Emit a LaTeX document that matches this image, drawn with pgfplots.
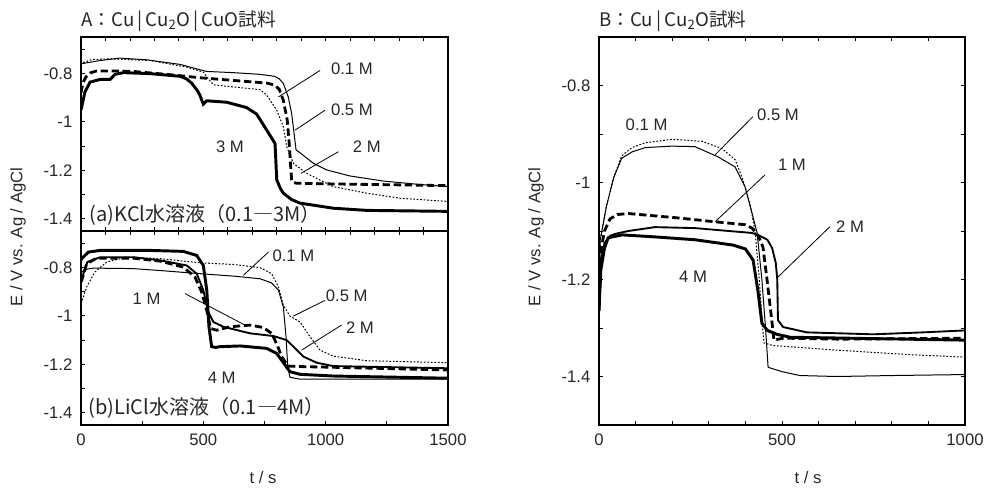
\documentclass[border=0pt]{standalone}
\usepackage{fontspec}
\setmainfont{Liberation Sans}
\newfontfamily\jp{Noto Sans CJK JP}
\usepackage{pgfplots}
\pgfplotsset{compat=1.18}

\definecolor{txt}{gray}{0.15}
\newcommand{\lbl}{\fontsize{12.5}{14}\selectfont}
\newcommand{\ttl}{\fontsize{14}{16}\selectfont}
\newcommand{\pnl}{\fontsize{15}{17}\selectfont}

\pgfplotsset{
  panel/.style={
    scale only axis, anchor=south west,
    axis line style={line width=0.9pt},
    tick style={line width=0.6pt, black},
    major tick length=3.2pt, tick align=inside,
    ticklabel style={font=\lbl, text=txt},
    xticklabel style={yshift=-3pt},
    yticklabel style={xshift=-3pt},
  },
}
\tikzset{
  sThin/.style={black, line width=0.75pt},
  sDot/.style={black, line width=0.75pt, dash pattern=on 1.3pt off 1.3pt},
  sDash/.style={black, line width=2.1pt, dash pattern=on 5.5pt off 2.8pt},
  sMed/.style={black, line width=1.4pt},
  sThick/.style={black, line width=2.2pt},
  sLead/.style={black, line width=0.6pt},
}

\begin{document}
\begin{tikzpicture}
\useasboundingbox (0,0) rectangle (738pt,365.25pt);

% ---------- A (a) KCl ----------
\begin{axis}[panel, at={(60.75pt,192pt)}, width=275.25pt, height=145.5pt,
  xmin=0, xmax=1500, ymin=-1.45, ymax=-0.65,
  xtick={0,100,...,1500}, xticklabels={},
  ytick={-1.4,-1.3,-1.2,-1.1,-1.0,-0.9,-0.8,-0.7},
  yticklabels={-1.4,,-1.2,,-1,,-0.8,}, ytick pos=left]
\addplot[sDash] coordinates {(0,-0.88) (3,-0.863) (10,-0.835) (20,-0.815) (40,-0.797) (64,-0.790) (150,-0.790) (214,-0.792) (350,-0.804) (486,-0.818) (623,-0.829) (759,-0.840) (790,-0.848) (810,-0.865) (827,-0.911) (843,-0.993) (851,-1.089) (857,-1.185) (861,-1.239) (870,-1.250) (881,-1.253) (1031,-1.256) (1250,-1.259) (1500,-1.263)};
\addplot[sThin] coordinates {(0,-0.765) (3,-0.760) (78,-0.747) (159,-0.737) (268,-0.744) (405,-0.763) (486,-0.785) (514,-0.792) (623,-0.797) (732,-0.804) (790,-0.812) (810,-0.822) (827,-0.842) (847,-0.897) (861,-0.966) (871,-1.048) (879,-1.116) (895,-1.127) (916,-1.144) (950,-1.171) (1004,-1.198) (1099,-1.223) (1236,-1.244) (1372,-1.257) (1500,-1.267)};
\addplot[sDot] coordinates {(0,-0.765) (3,-0.758) (44,-0.743) (119,-0.740) (282,-0.747) (432,-0.774) (500,-0.795) (520,-0.822) (541,-0.847) (623,-0.856) (732,-0.867) (759,-0.890) (800,-0.952) (827,-1.020) (841,-1.103) (868,-1.171) (922,-1.212) (1031,-1.267) (1168,-1.294) (1304,-1.315) (1500,-1.328)};
\addplot[sThick] coordinates {(0,-0.95) (3,-0.938) (16,-0.877) (37,-0.836) (78,-0.825) (119,-0.825) (139,-0.804) (173,-0.797) (282,-0.801) (405,-0.812) (430,-0.822) (452,-0.840) (475,-0.870) (486,-0.890) (500,-0.927) (514,-0.913) (595,-0.919) (677,-0.941) (718,-0.968) (759,-1.034) (793,-1.089) (800,-1.239) (815,-1.275) (827,-1.294) (860,-1.320) (895,-1.335) (1031,-1.356) (1168,-1.365) (1500,-1.369)};
\draw[sLead] (axis cs:977,-0.788) -- (axis cs:807,-0.897);
\draw[sLead] (axis cs:997,-0.952) -- (axis cs:875,-1.034);
\draw[sLead] (axis cs:1052,-1.123) -- (axis cs:899,-1.212);
\node[font=\lbl, text=txt] at (axis cs:1107,-0.78) {0.1 M};
\node[font=\lbl, text=txt] at (axis cs:1107,-0.952) {0.5 M};
\node[font=\lbl, text=txt] at (axis cs:1168,-1.102) {2 M};
\node[font=\lbl, text=txt] at (axis cs:609,-1.102) {3 M};
\node[font=\jp\pnl, text=txt, anchor=west, inner sep=0pt] at (axis cs:35,-1.385) {(a)KCl水溶液（0.1―3M）};
\end{axis}

% ---------- A (b) LiCl ----------
\begin{axis}[panel, at={(60.75pt,46.5pt)}, width=275.25pt, height=145.5pt,
  xmin=0, xmax=1500, ymin=-1.45, ymax=-0.65,
  xtick={0,250,...,1500}, xticklabels={0,,500,,1000,,1500}, xtick pos=left,
  ytick={-1.4,-1.3,-1.2,-1.1,-1.0,-0.9,-0.8,-0.7},
  yticklabels={-1.4,,-1.2,,-1,,-0.8,}, ytick pos=left]
\addplot[sThin] coordinates {(0,-0.83) (3,-0.819) (20,-0.808) (50,-0.803) (214,-0.805) (350,-0.815) (486,-0.826) (623,-0.836) (732,-0.847) (779,-0.864) (807,-0.894) (827,-0.963) (838,-1.086) (845,-1.209) (854,-1.253) (895,-1.261) (1031,-1.261) (1500,-1.261)};
\addplot[sDot] coordinates {(0,-0.95) (3,-0.942) (23,-0.881) (57,-0.819) (105,-0.778) (187,-0.758) (323,-0.764) (486,-0.781) (623,-0.788) (732,-0.801) (779,-0.826) (807,-0.881) (827,-0.956) (854,-1.001) (895,-1.025) (936,-1.086) (977,-1.141) (1031,-1.166) (1168,-1.185) (1500,-1.193)};
\addplot[sDash] coordinates {(0,-0.86) (3,-0.853) (23,-0.785) (64,-0.762) (214,-0.762) (323,-0.774) (418,-0.799) (466,-0.840) (493,-0.901) (514,-0.977) (530,-1.052) (554,-1.059) (609,-1.045) (691,-1.038) (745,-1.048) (779,-1.072) (802,-1.120) (820,-1.168) (847,-1.207) (895,-1.209) (1031,-1.212) (1500,-1.223)};
\addplot[sMed] coordinates {(0,-0.855) (3,-0.847) (26,-0.778) (78,-0.758) (214,-0.758) (323,-0.771) (432,-0.792) (473,-0.826) (500,-0.894) (520,-0.983) (541,-1.025) (582,-1.045) (691,-1.072) (786,-1.083) (841,-1.100) (875,-1.134) (909,-1.168) (963,-1.193) (1031,-1.207) (1500,-1.216)};
\addplot[sThick] coordinates {(0,-0.77) (3,-0.764) (30,-0.737) (78,-0.730) (282,-0.730) (418,-0.734) (473,-0.751) (500,-0.792) (514,-0.894) (523,-1.045) (534,-1.127) (550,-1.13) (568,-1.127) (650,-1.124) (759,-1.134) (800,-1.155) (827,-1.193) (854,-1.230) (895,-1.241) (1031,-1.248) (1500,-1.257)};
\draw[sLead] (axis cs:766,-0.737) -- (axis cs:663,-0.833);
\draw[sLead] (axis cs:997,-0.936) -- (axis cs:868,-1.001);
\draw[sLead] (axis cs:425,-0.908) -- (axis cs:670,-1.038);
\draw[sLead] (axis cs:1065,-1.038) -- (axis cs:902,-1.141);
\node[font=\lbl, text=txt] at (axis cs:868,-0.751) {0.1 M};
\node[font=\lbl, text=txt] at (axis cs:1086,-0.915) {0.5 M};
\node[font=\lbl, text=txt] at (axis cs:268,-0.929) {1 M};
\node[font=\lbl, text=txt] at (axis cs:1140,-1.048) {2 M};
\node[font=\lbl, text=txt] at (axis cs:575,-1.257) {4 M};
\node[font=\jp\pnl, text=txt, anchor=west, inner sep=0pt] at (axis cs:30,-1.38) {(b)LiCl水溶液（0.1―4M）};
\end{axis}
% top ticks of the lower panel
\begin{axis}[panel, at={(60.75pt,46.5pt)}, width=275.25pt, height=145.5pt,
  xmin=0, xmax=1500, ymin=-1.45, ymax=-0.65,
  xtick={0,100,...,1500}, xticklabels={}, xtick pos=right,
  ytick=\empty, axis line style={draw=none}]
\end{axis}

% ---------- B ----------
\begin{axis}[panel, at={(449.25pt,46.5pt)}, width=274.5pt, height=291pt,
  xmin=0, xmax=1000, ymin=-1.5, ymax=-0.7,
  xtick={0,100,...,1000}, xticklabels={0,,,,,500,,,,,1000},
  ytick={-1.5,-1.4,-1.3,-1.2,-1.1,-1.0,-0.9,-0.8,-0.7},
  yticklabels={,-1.4,,-1.2,,-1,,-0.8,}]
\addplot[sDot] coordinates {(0,-1.26) (3,-1.12) (20,-1.05) (40,-0.99) (62,-0.945) (90,-0.928) (126,-0.918) (199,-0.911) (281,-0.915) (336,-0.930) (372,-0.953) (393,-0.994) (412,-1.042) (426,-1.098) (438,-1.20) (447,-1.30) (451,-1.331) (475,-1.336) (550,-1.340) (658,-1.346) (850,-1.355) (1000,-1.360)};
\addplot[sThin] coordinates {(0,-1.26) (3,-1.12) (20,-1.05) (40,-0.99) (62,-0.95) (90,-0.937) (126,-0.928) (199,-0.925) (262,-0.926) (325,-0.947) (372,-0.968) (399,-1.009) (418,-1.063) (432,-1.104) (445,-1.2) (455,-1.30) (462,-1.381) (500,-1.39) (549,-1.398) (650,-1.40) (800,-1.398) (1000,-1.396)};
\addplot[sDash] coordinates {(0,-1.26) (5,-1.14) (15,-1.10) (30,-1.075) (50,-1.066) (80,-1.064) (126,-1.067) (216,-1.073) (317,-1.081) (399,-1.087) (418,-1.094) (435,-1.11) (448,-1.133) (459,-1.20) (472,-1.284) (478,-1.325) (503,-1.321) (658,-1.323) (1000,-1.321)};
\addplot[sMed] coordinates {(0,-1.26) (5,-1.16) (15,-1.125) (30,-1.11) (44,-1.106) (80,-1.100) (153,-1.092) (262,-1.094) (418,-1.104) (434,-1.108) (460,-1.118) (473,-1.135) (483,-1.166) (487,-1.2) (489,-1.284) (503,-1.298) (568,-1.309) (749,-1.313) (885,-1.309) (1000,-1.305)};
\addplot[sThick] coordinates {(0,-1.265) (5,-1.18) (15,-1.135) (25,-1.114) (63,-1.108) (150,-1.112) (262,-1.118) (366,-1.129) (400,-1.137) (421,-1.160) (434,-1.222) (445,-1.29) (460,-1.305) (486,-1.313) (522,-1.319) (1000,-1.325)};
\draw[sLead] (axis cs:421,-0.864) -- (axis cs:317,-0.943);
\draw[sLead] (axis cs:454,-0.984) -- (axis cs:317,-1.081);
\draw[sLead] (axis cs:631,-1.091) -- (axis cs:486,-1.197);
\node[font=\lbl, text=txt] at (axis cs:130,-0.881) {0.1 M};
\node[font=\lbl, text=txt] at (axis cs:489,-0.860) {0.5 M};
\node[font=\lbl, text=txt] at (axis cs:527,-0.963) {1 M};
\node[font=\lbl, text=txt] at (axis cs:686,-1.091) {2 M};
\node[font=\lbl, text=txt] at (axis cs:257,-1.195) {4 M};
\end{axis}

% titles and axis labels
\node[anchor=base west, font=\jp\ttl, text=txt, inner sep=0pt] at (60.75pt,345pt) {A：Cu\,|\,Cu\textsubscript{2}O\,|\,CuO試料};
\node[anchor=base west, font=\jp\ttl, text=txt, inner sep=0pt] at (449.25pt,345pt) {B：Cu\,|\,Cu\textsubscript{2}O試料};
\node[rotate=90, font=\lbl, text=txt] at (13.5pt,187.5pt) {E / V vs. Ag / AgCl};
\node[rotate=90, font=\lbl, text=txt] at (402pt,187.5pt) {E / V vs. Ag / AgCl};
\node[font=\lbl, text=txt] at (197.25pt,6.75pt) {t / s};
\node[font=\lbl, text=txt] at (606pt,6.75pt) {t / s};
\end{tikzpicture}
\end{document}
